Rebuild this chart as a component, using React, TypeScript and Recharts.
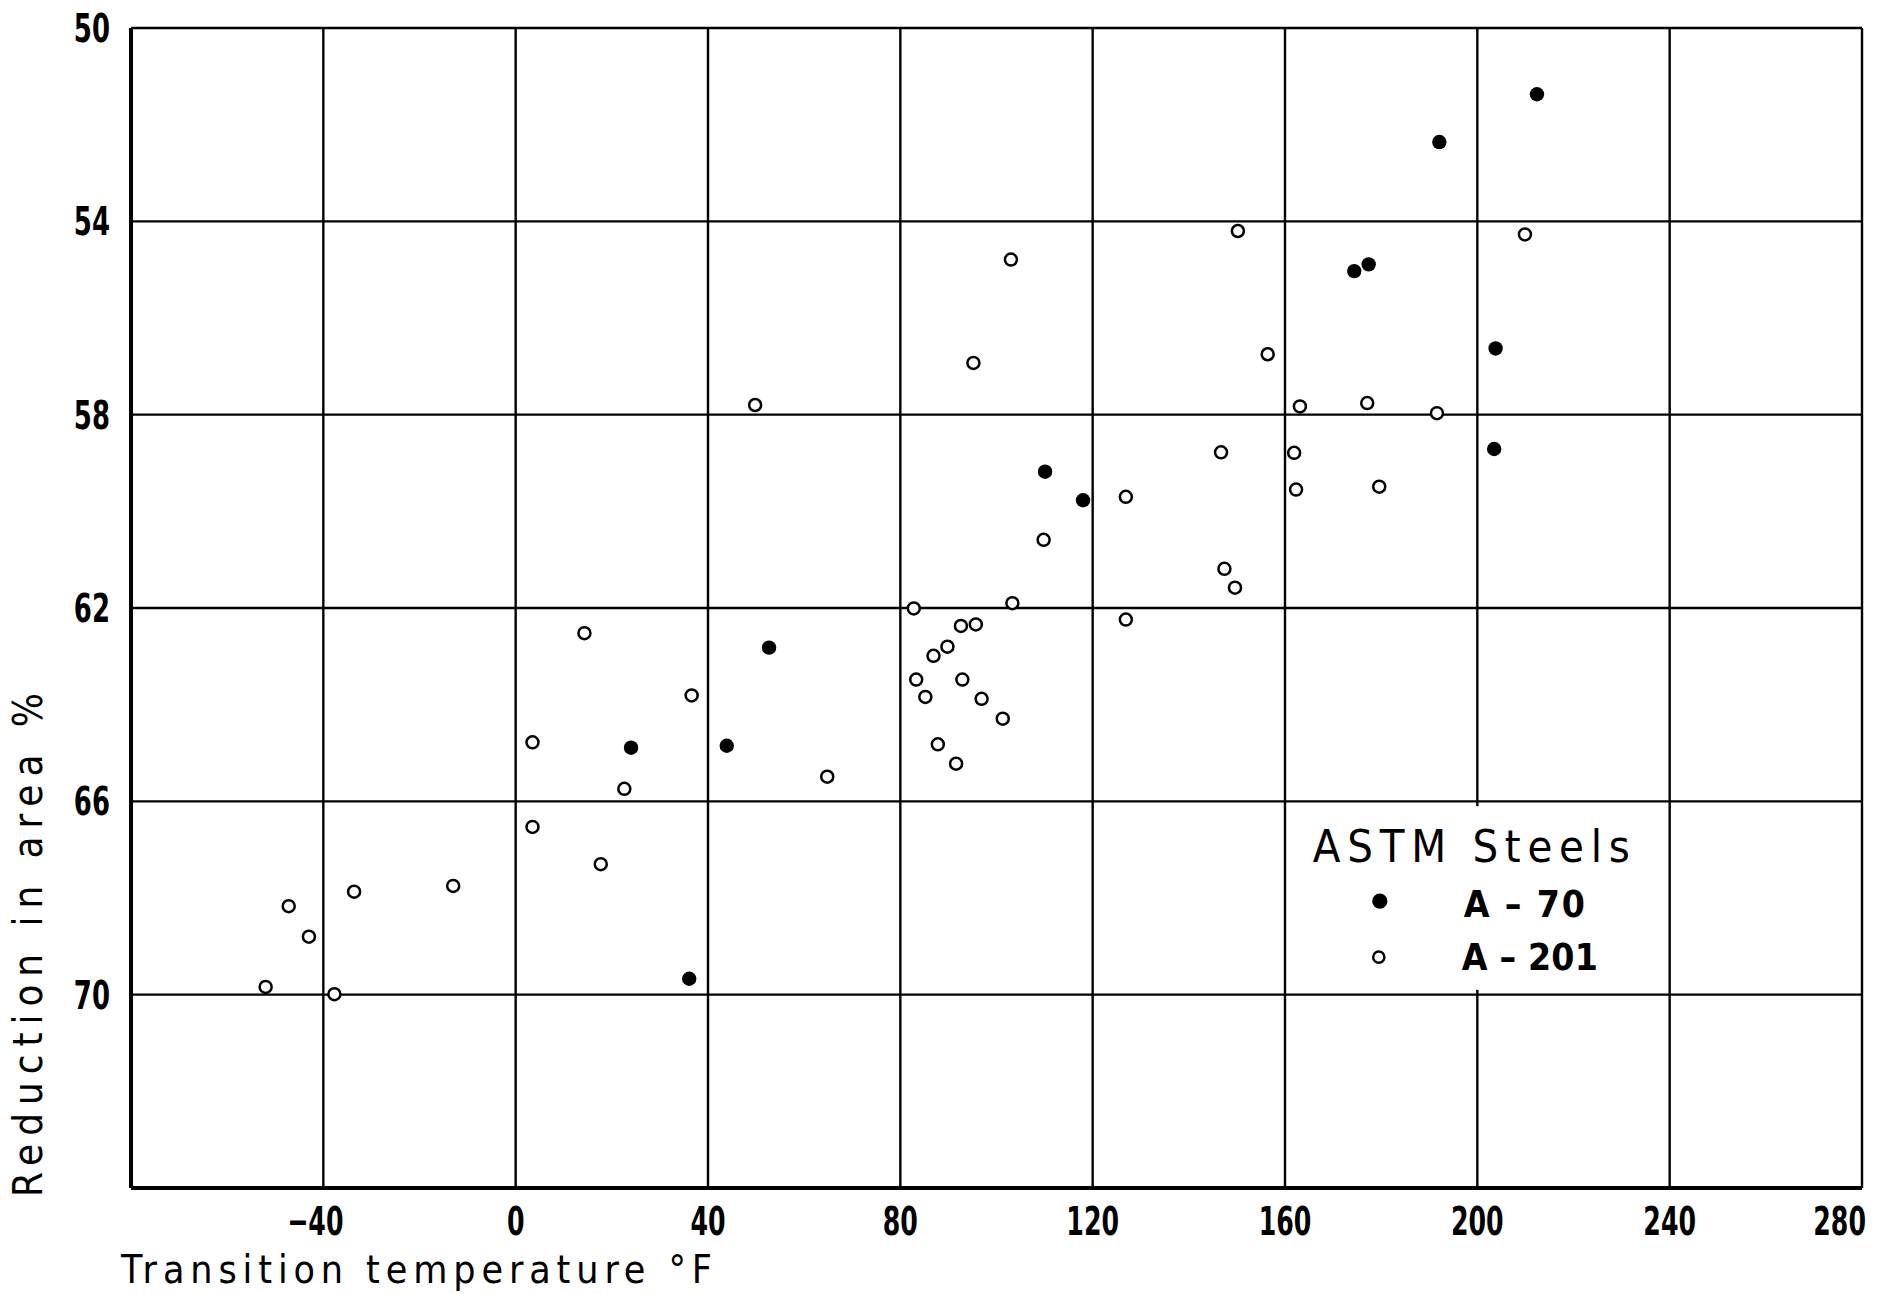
import React from 'react';
import { ScatterChart, Scatter, XAxis, YAxis, CartesianGrid, ReferenceArea } from 'recharts';

// Transition temperature (°F) and reduction in area (%) for each steel
const a70Temp = [212.4, 192.1, 174.4, 177.4, 203.8, 203.5, 110.1, 118.0, 52.7, 24.0, 43.9, 36.1];
const a70Red = [51.37, 52.36, 55.03, 54.89, 56.63, 58.71, 59.18, 59.77, 62.82, 64.89, 64.85, 69.67];

const a201Temp = [
  209.9, 150.2, 103.0, 95.2, 156.4, 49.8, 163.1, 177.1, 191.6, 146.7, 161.9, 162.3, 179.6, 126.9,
  109.8, 147.4, 149.6, 103.3, 82.8, 126.9, 92.6, 95.7, 14.3, 89.8, 86.9, 83.3, 92.9, 85.2, 96.9,
  101.3, 36.6, 3.5, 87.8, 91.6, 64.8, 22.6, 3.5, 17.7, -13.0, -33.6, -47.2, -43.0, -52.0, -37.7,
];
const a201Red = [
  54.27, 54.2, 54.79, 56.93, 56.75, 57.8, 57.83, 57.76, 57.97, 58.78, 58.79, 59.55, 59.49, 59.7,
  60.59, 61.19, 61.58, 61.9, 62.01, 62.24, 62.37, 62.34, 62.52, 62.8, 62.99, 63.48, 63.48, 63.84, 63.88,
  64.29, 63.81, 64.78, 64.82, 65.22, 65.49, 65.74, 66.53, 67.3, 67.75, 67.87, 68.17, 68.8, 69.84, 69.99,
];

const xTicks = [-80, -40, 0, 40, 80, 120, 160, 200, 240, 280];
const yTicks = [50, 54, 58, 62, 66, 70, 74];
const xLabelTicks = [-40, 0, 40, 80, 120, 160, 200, 240, 280];
const yLabelTicks = [50, 54, 58, 62, 66, 70];

const legendTitle = 'ASTM Steels';
const legendNames = ['A – 70', 'A – 201'];
const xTitle = 'Transition temperature °F';
const yTitle = 'Reduction in area %';

const a70Data = a70Temp.map((t, i) => ({ t, r: a70Red[i] }));
const a201Data = a201Temp.map((t, i) => ({ t, r: a201Red[i] }));

const NARROW = "'DejaVu Sans Condensed', 'DejaVu Sans', sans-serif";

const XTick = (props: any) => {
  const { x, y, payload } = props;
  const v = payload.value;
  if (!xLabelTicks.includes(v)) return null;
  const label = v < 0 ? '−' + Math.abs(v) : String(v);
  let tx = x;
  let anchor: any = 'middle';
  if (v < 0) tx = x - 8;
  if (v === 280) {
    tx = x + 4;
    anchor = 'end';
  }
  return (
    <text
      transform={`translate(${tx} ${y + 47}) scale(0.72 1)`}
      x={0}
      y={0}
      textAnchor={anchor}
      fontFamily={NARROW}
      fontWeight="bold"
      fontSize={39}
      fill="#000"
    >
      {label}
    </text>
  );
};

const YTick = (props: any) => {
  const { x, y, payload } = props;
  const v = payload.value;
  if (!yLabelTicks.includes(v)) return null;
  return (
    <text
      transform={`translate(${x} ${y + 14}) scale(0.74 1)`}
      x={0}
      y={0}
      textAnchor="end"
      fontFamily={NARROW}
      fontWeight="bold"
      fontSize={39}
      fill="#000"
    >
      {String(v)}
    </text>
  );
};

const FilledDot = (p: any) => <circle cx={p.cx} cy={p.cy} r={7.2} fill="#000" />;
const OpenDot = (p: any) => <circle cx={p.cx} cy={p.cy} r={6} fill="#fff" stroke="#000" strokeWidth={2.5} />;

const LegendBox = (p: any) => {
  const { x, y, width, height } = p;
  return (
    <g>
      <rect x={x} y={y} width={width} height={height} fill="#fff" />
      <text x={x + 23} y={y + 56} fontFamily={NARROW} fontSize={45} fill="#000" textLength={317} lengthAdjust="spacing">
        {legendTitle}
      </text>
      <circle cx={x + 90} cy={y + 95} r={7.6} fill="#000" />
      <circle cx={x + 89} cy={y + 151} r={5.6} fill="#fff" stroke="#000" strokeWidth={2.4} />
      <text x={x + 174} y={y + 111} fontFamily={NARROW} fontWeight="bold" fontSize={37} fill="#000" textLength={121} lengthAdjust="spacing">
        {legendNames[0]}
      </text>
      <text x={x + 172} y={y + 164} fontFamily={NARROW} fontWeight="bold" fontSize={37} fill="#000" textLength={136} lengthAdjust="spacing">
        {legendNames[1]}
      </text>
    </g>
  );
};

const XTitle = (props: any) => {
  const vb = props.viewBox || {};
  return (
    <text x={vb.x - 10} y={vb.y + 95} fontFamily={NARROW} fontSize={39} fill="#000" textLength={591} lengthAdjust="spacing">
      {xTitle}
    </text>
  );
};

const YTitle = (props: any) => {
  const vb = props.viewBox || {};
  const cx = 42;
  const cy = vb.y + vb.height + 9;
  return (
    <text x={cx} y={cy} transform={`rotate(-90 ${cx} ${cy})`} fontFamily={NARROW} fontSize={40} fill="#000" textLength={504} lengthAdjust="spacing">
      {yTitle}
    </text>
  );
};

export default function App() {
  return (
    <div style={{ position: 'absolute', left: 0, top: 0, width: 1893, height: 1294, background: '#fff' }}>
      <ScatterChart width={1893} height={1294} margin={{ top: 28, right: 31, bottom: 0, left: 0 }}>
        <CartesianGrid stroke="#000" strokeWidth={2.4} />
        <XAxis
          type="number"
          dataKey="t"
          domain={[-80, 280]}
          ticks={xTicks}
          interval={0}
          allowDataOverflow
          height={106}
          tickLine={false}
          tickSize={0}
          tickMargin={0}
          axisLine={{ stroke: '#000', strokeWidth: 4 }}
          tick={<XTick />}
          label={<XTitle />}
        />
        <YAxis
          type="number"
          dataKey="r"
          domain={[50, 74]}
          reversed
          ticks={yTicks}
          interval={0}
          allowDataOverflow
          width={131}
          tickLine={false}
          tickSize={0}
          tickMargin={21}
          axisLine={{ stroke: '#000', strokeWidth: 4 }}
          tick={<YTick />}
          label={<YTitle />}
        />
        <ReferenceArea x1={161} x2={239} y1={66.1} y2={69.9} shape={(p: any) => <LegendBox {...p} />} />
        <Scatter name="A-70" data={a70Data} shape={(p: any) => <FilledDot {...p} />} isAnimationActive={false} />
        <Scatter name="A-201" data={a201Data} shape={(p: any) => <OpenDot {...p} />} isAnimationActive={false} />
      </ScatterChart>
    </div>
  );
}
